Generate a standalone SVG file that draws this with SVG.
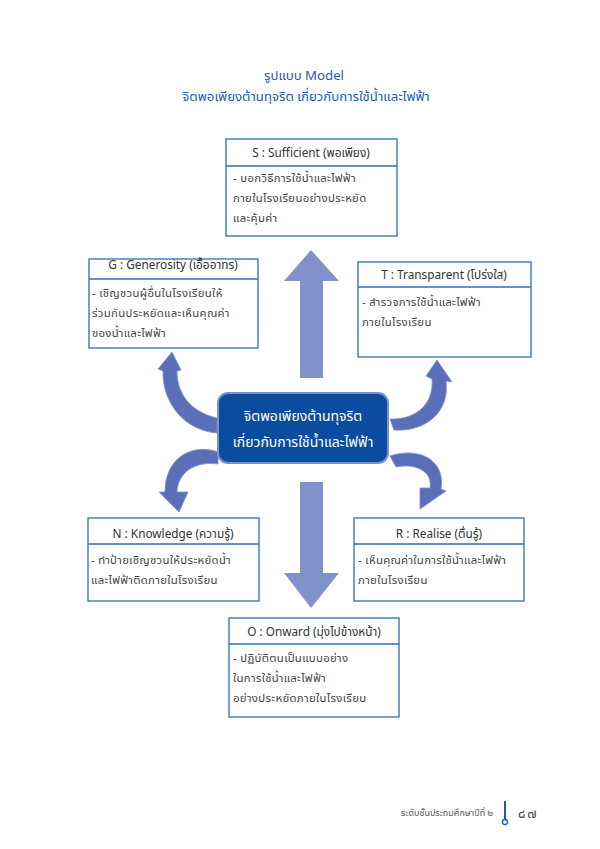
<svg xmlns="http://www.w3.org/2000/svg" width="600" height="849" viewBox="0 0 600 849">
<style>
text{font-family:"Noto Sans Thai","Noto Sans",Tahoma,sans-serif}
.title{font-size:13.2px;fill:#1d5cae;text-anchor:middle}
.box{fill:#fff;stroke:#2f6db4;stroke-width:1.3}
.div{stroke:#2f6db4;stroke-width:1.3}
.hd{font-size:11.8px;fill:#333;text-anchor:middle}
.bd{font-size:11.4px;fill:#444;letter-spacing:0.3px}
.big{fill:#8191ca}
.cur{fill:#5b6fb8;stroke:#7d8fcb;stroke-width:0.8}
</style>
<rect width="600" height="849" fill="#fff"/>
<g id="title">
<text class="title" x="304" y="80">รูปแบบ Model</text>
<text class="title" x="306" y="101">จิตพอเพียงต้านทุจริต เกี่ยวกับการใช้น้ำและไฟฟ้า</text>
</g>
<g id="connectors">
<polygon class="big" points="311,250 339,281 323,281 323,378 300,378 300,281 284,281"/>
<polygon class="big" points="300,482 323,482 323,573 339,573 311,608 284,573 300,573"/>
<path class="cur" d="M217,418 C195,413 177,398 177,371 L181,370 L172,352 L158,369 L163,371 C162,404 186,431 217,433 Z"/>
<path class="cur" d="M218,452 C193,443 165,457 165,492 L159,492 L179,512 L188,492 L177,492 C178,472 195,461 218,464 Z"/>
<path class="cur" d="M390,419 C415,420 434,405 432,379 L426,376 L437,360 L452,382 L446,381 C450,410 428,432 394,430 Z"/>
<path class="cur" d="M390,456 C420,446 446,461 441,489 L446,491 L420,509 L420,488 L430,488 C433,471 415,463 396,467 Z"/>
</g>
<g id="center">
<rect x="218" y="393" width="170" height="70" rx="10" fill="#0b4c9f" stroke="#7892cd" stroke-width="2"/>
<text x="303" y="421" font-size="14" fill="#fff" text-anchor="middle">จิตพอเพียงต้านทุจริต</text>
<text x="303" y="447" font-size="14" fill="#fff" text-anchor="middle">เกี่ยวกับการใช้น้ำและไฟฟ้า</text>
</g>
<g id="S">
<rect class="box" x="226" y="139" width="171" height="97"/>
<line class="div" x1="226" y1="166" x2="397" y2="166"/>
<text class="hd" x="311" y="157">S : Sufficient (พอเพียง)</text>
<text class="bd" x="233" y="182">- บอกวิธีการใช้น้ำและไฟฟ้า</text>
<text class="bd" x="233" y="202">ภายในโรงเรียนอย่างประหยัด</text>
<text class="bd" x="233" y="222">และคุ้มค่า</text>
</g>
<g id="G">
<rect class="box" x="89" y="259" width="169" height="89"/>
<line class="div" x1="89" y1="279" x2="258" y2="279"/>
<text class="hd" x="173" y="269">G : Generosity (เอื้ออาทร)</text>
<text class="bd" x="92" y="297">- เชิญชวนผู้อื่นในโรงเรียนให้</text>
<text class="bd" x="92" y="317">ร่วมกันประหยัดและเห็นคุณค่า</text>
<text class="bd" x="92" y="337">ของน้ำและไฟฟ้า</text>
</g>
<g id="T">
<rect class="box" x="358" y="262" width="173" height="95"/>
<line class="div" x1="358" y1="287" x2="531" y2="287"/>
<text class="hd" x="444" y="279">T : Transparent (โปร่งใส)</text>
<text class="bd" x="362" y="306">- สำรวจการใช้น้ำและไฟฟ้า</text>
<text class="bd" x="362" y="326">ภายในโรงเรียน</text>
</g>
<g id="N">
<rect class="box" x="88" y="518" width="171" height="83"/>
<line class="div" x1="88" y1="544" x2="259" y2="544"/>
<text class="hd" x="173" y="538">N : Knowledge (ความรู้)</text>
<text class="bd" x="91" y="564">- ทำป้ายเชิญชวนให้ประหยัดน้ำ</text>
<text class="bd" x="91" y="584">และไฟฟ้าติดภายในโรงเรียน</text>
</g>
<g id="R">
<rect class="box" x="354" y="518" width="170" height="83"/>
<line class="div" x1="354" y1="544" x2="524" y2="544"/>
<text class="hd" x="439" y="538">R : Realise (ตื่นรู้)</text>
<text class="bd" x="358" y="564">- เห็นคุณค่าในการใช้น้ำและไฟฟ้า</text>
<text class="bd" x="358" y="584">ภายในโรงเรียน</text>
</g>
<g id="O">
<rect class="box" x="229" y="618" width="170" height="99"/>
<line class="div" x1="229" y1="644" x2="399" y2="644"/>
<text class="hd" x="314" y="636">O : Onward (มุ่งไปข้างหน้า)</text>
<text class="bd" x="233" y="662">- ปฏิบัติตนเป็นแบบอย่าง</text>
<text class="bd" x="233" y="682">ในการใช้น้ำและไฟฟ้า</text>
<text class="bd" x="233" y="702">อย่างประหยัดภายในโรงเรียน</text>
</g>
<g id="footer">
<text x="493" y="816" font-size="9" fill="#555" text-anchor="end">ระดับชั้นประถมศึกษาปีที่ ๒</text>
<line x1="505" y1="801" x2="505" y2="819" stroke="#1d5cae" stroke-width="2"/>
<circle cx="505" cy="822" r="2.5" fill="#fff" stroke="#1d5cae" stroke-width="1.3"/>
<text x="518" y="818" font-size="13" fill="#444" letter-spacing="2">๘๗</text>
</g>
</svg>
